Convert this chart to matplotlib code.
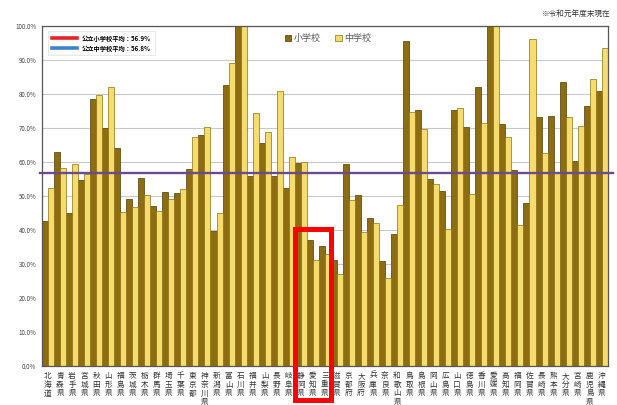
"""都道府県別の公立小・中学校の割合グラフ"""
import matplotlib.pyplot as plt
from matplotlib.lines import Line2D
from matplotlib.patches import Rectangle

plt.rcParams["font.family"] = ["Noto Sans CJK JP", "DejaVu Sans"]

PREFS = [
    "北海道", "青森県", "岩手県", "宮城県", "秋田県", "山形県", "福島県",
    "茨城県", "栃木県", "群馬県", "埼玉県", "千葉県", "東京都", "神奈川県",
    "新潟県", "富山県", "石川県", "福井県", "山梨県", "長野県", "岐阜県",
    "静岡県", "愛知県", "三重県", "滋賀県", "京都府", "大阪府", "兵庫県",
    "奈良県", "和歌山県", "鳥取県", "島根県", "岡山県", "広島県", "山口県",
    "徳島県", "香川県", "愛媛県", "高知県", "福岡県", "佐賀県", "長崎県",
    "熊本県", "大分県", "宮崎県", "鹿児島県", "沖縄県",
]

ELEM = [
    42.6, 62.9, 44.9, 54.7, 78.6, 69.9, 64.2, 49.0, 55.4, 47.2, 51.3, 51.0,
    57.9, 67.9, 39.6, 82.5, 100.0, 55.8, 65.5, 55.9, 52.4, 59.8, 37.2, 35.3,
    31.2, 59.4, 50.4, 43.6, 31.0, 38.8, 95.6, 75.3, 55.0, 51.6, 75.3, 70.4,
    81.9, 100.0, 71.2, 57.6, 48.0, 73.3, 73.5, 83.6, 60.4, 76.6, 81.0,
]
JUNIOR = [
    52.4, 58.1, 59.3, 56.5, 79.7, 81.9, 45.4, 46.9, 50.3, 45.6, 49.1, 52.0,
    67.3, 70.2, 44.9, 89.2, 100.0, 74.4, 68.7, 81.0, 61.4, 60.0, 31.2, 33.0,
    27.1, 48.8, 39.3, 42.2, 26.0, 47.5, 74.8, 69.7, 53.5, 40.2, 75.8, 50.6,
    71.6, 100.0, 67.3, 41.5, 96.2, 62.7, 57.2, 73.1, 70.6, 84.3, 93.4,
]

ELEM_AVG = 56.9
JUNIOR_AVG = 56.8

DARK = "#8c6d12"
LIGHT = "#f6dc6c"
EDGE = "#4e3c05"
RED = "#e8202a"
BLUE = "#3a86cc"


def main() -> None:
    fig = plt.figure(figsize=(6.17, 4.05), dpi=100)
    ax = fig.add_axes([0.068, 0.096, 0.917, 0.840])

    xs = list(range(len(PREFS)))
    w = 0.5
    ax.bar([x - w / 2 for x in xs], ELEM, width=w, color=DARK,
           edgecolor=EDGE, linewidth=0.5, label="小学校", zorder=2)
    ax.bar([x + w / 2 for x in xs], JUNIOR, width=w, color=LIGHT,
           edgecolor="#8a7012", linewidth=0.5, label="中学校", zorder=2)

    # 平均線（赤：小学校、青：中学校）はほぼ重なる
    ax.axhline(ELEM_AVG, color=RED, linewidth=1.6, zorder=3,
               clip_on=False, xmin=-0.003, xmax=1.01)
    ax.axhline(JUNIOR_AVG, color="#2f5fc0", linewidth=1.6, alpha=0.7,
               zorder=4, clip_on=False, xmin=-0.003, xmax=1.01)

    ax.set_xlim(-0.5, len(PREFS) - 0.5)
    ax.set_ylim(0, 100)
    ax.set_yticks(range(0, 101, 10))
    ax.set_yticklabels([f"{v:.1f}%" for v in range(0, 101, 10)],
                       fontsize=4.5, color="#444444")
    ax.yaxis.grid(True, color="#c8c8c8", linewidth=0.8, zorder=0)
    ax.set_axisbelow(True)
    ax.tick_params(axis="y", length=0, pad=4)

    ax.set_xticks(xs)
    ax.set_xticklabels(["\n".join(p) for p in PREFS], fontsize=5.5,
                       color="#333333", linespacing=1.15, va="top")
    ax.tick_params(axis="x", length=0, pad=4)

    for s in ax.spines.values():
        s.set_color("#555555")
        s.set_linewidth(0.9)

    proxies = [Line2D([], [], color=RED, linewidth=2.6),
               Line2D([], [], color=BLUE, linewidth=2.6)]
    leg1 = ax.legend(proxies,
                     [f"公立小学校平均：{ELEM_AVG}%", f"公立中学校平均：{JUNIOR_AVG}%"],
                     loc="upper left", bbox_to_anchor=(0.005, 0.995),
                     fontsize=4.5, frameon=True, fancybox=False,
                     edgecolor="#dddddd", handlelength=4.0, borderpad=0.6,
                     labelspacing=0.5, prop={"size": 4.5, "weight": "bold"})
    leg1.get_frame().set_linewidth(0.6)
    ax.add_artist(leg1)

    handles, labels = ax.get_legend_handles_labels()
    ax.legend(handles[-2:], labels[-2:], loc="upper left",
              bbox_to_anchor=(0.415, 1.0), ncol=2, fontsize=6.5,
              frameon=False, handlelength=0.7, handleheight=0.7,
              columnspacing=1.6, handletextpad=0.3, labelcolor="#555555")

    # 静岡・愛知・三重を囲む枠
    box = Rectangle((20.55, -10.0), 2.95, 50.4, fill=False,
                    edgecolor="#ff0000", linewidth=3.6, clip_on=False, zorder=6)
    ax.add_patch(box)

    fig.text(0.99, 0.965, "※令和元年度末現在", ha="right", va="center",
             fontsize=5.5, color="#333333")

    fig.savefig("out.png", dpi=100, facecolor="white")
    plt.close(fig)


if __name__ == "__main__":
    main()
